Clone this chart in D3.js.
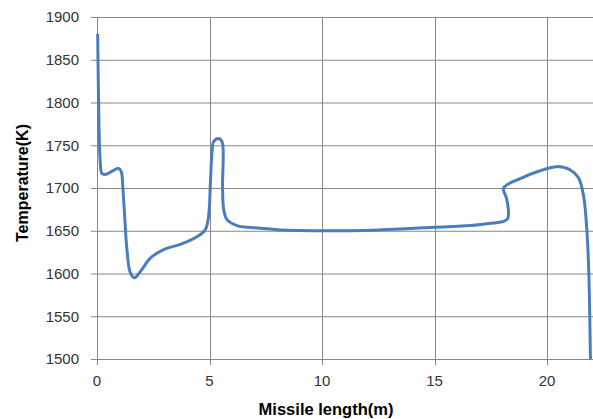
<!DOCTYPE html>
<html>
<head>
<meta charset="utf-8">
<script src="https://cdn.jsdelivr.net/npm/d3@7"></script>
<style>
  body { margin: 0; background: #fff; }
  text { font-family: "Liberation Sans", Arial, sans-serif; }
</style>
</head>
<body>
<svg id="chart" width="593" height="419"></svg>
<script>
// Missile length (m) and temperature (K)
const lengthM = [0.03, 0.06, 0.1, 0.15, 0.22, 0.4, 0.7, 0.96, 1.08, 1.15, 1.23, 1.33, 1.48, 1.66, 1.92, 2.37, 2.96, 3.7, 4.44, 4.81, 4.96, 5.04, 5.11, 5.18, 5.4, 5.56, 5.58, 5.63, 5.78, 6.22, 7.26, 8.15, 10, 12.5, 15, 16.6, 17.6, 18.07, 18.25, 18.29, 18.2, 18.07, 18.81, 19.56, 20.44, 21.04, 21.4, 21.63, 21.78, 21.86, 21.9, 21.93];
const tempK = [1880, 1820, 1760, 1728, 1717, 1716, 1720, 1723, 1719, 1700, 1667, 1628, 1601, 1595, 1602, 1618, 1628, 1634, 1643, 1651, 1667, 1706, 1741, 1754, 1758, 1754, 1702, 1675, 1663, 1656, 1653, 1651, 1650, 1651, 1654, 1656, 1659, 1661, 1664, 1672, 1688, 1700, 1711, 1719, 1725, 1721, 1712, 1690, 1647, 1600, 1550, 1500];

const xTicks = [0, 5, 10, 15, 20];
const yTicks = [1500, 1550, 1600, 1650, 1700, 1750, 1800, 1850, 1900];

const M = { left: 97, top: 17, right: 592, bottom: 359 };
const svg = d3.select("#chart");

const x = d3.scaleLinear().domain([0, 22]).range([M.left, M.right]);
const y = d3.scaleLinear().domain([1500, 1900]).range([M.bottom, M.top]);

const grid = svg.append("g");
grid.selectAll(".hg").data(yTicks).enter().append("line")
  .attr("x1", M.left - 6).attr("x2", 593)
  .attr("y1", d => y(d) + 0.5).attr("y2", d => y(d) + 0.5)
  .attr("stroke", "#878787").attr("stroke-width", 1);
grid.selectAll(".vg").data(xTicks).enter().append("line")
  .attr("x1", d => Math.round(x(d)) + 0.5).attr("x2", d => Math.round(x(d)) + 0.5)
  .attr("y1", M.top).attr("y2", M.bottom + 6)
  .attr("stroke", "#878787").attr("stroke-width", 1);

svg.append("g").selectAll("text").data(yTicks).enter().append("text")
  .attr("x", 79).attr("y", d => y(d)).attr("dy", "0.35em")
  .attr("text-anchor", "end").attr("font-size", 15).attr("fill", "#333")
  .text(d => d);

svg.append("g").selectAll("text").data(xTicks).enter().append("text")
  .attr("x", d => x(d)).attr("y", 381).attr("dy", "0.35em")
  .attr("text-anchor", "middle").attr("font-size", 15).attr("fill", "#333")
  .text(d => d);

svg.append("text")
  .attr("x", 326).attr("y", 409).attr("dy", "0.35em")
  .attr("text-anchor", "middle").attr("font-size", 16.5).attr("font-weight", "bold").attr("fill", "#000")
  .text("Missile length(m)");

svg.append("text")
  .attr("transform", "translate(22,183) rotate(-90)").attr("dy", "0.35em")
  .attr("text-anchor", "middle").attr("font-size", 16).attr("font-weight", "bold").attr("fill", "#000")
  .text("Temperature(K)");

const line = d3.line()
  .x((d, i) => x(lengthM[i]))
  .y(d => y(d))
  .curve(d3.curveCatmullRom.alpha(0.5));

svg.append("path")
  .datum(tempK)
  .attr("d", line)
  .attr("fill", "none")
  .attr("stroke", "#4a7ebb")
  .attr("stroke-width", 3)
  .attr("stroke-linejoin", "round");
</script>
</body>
</html>
